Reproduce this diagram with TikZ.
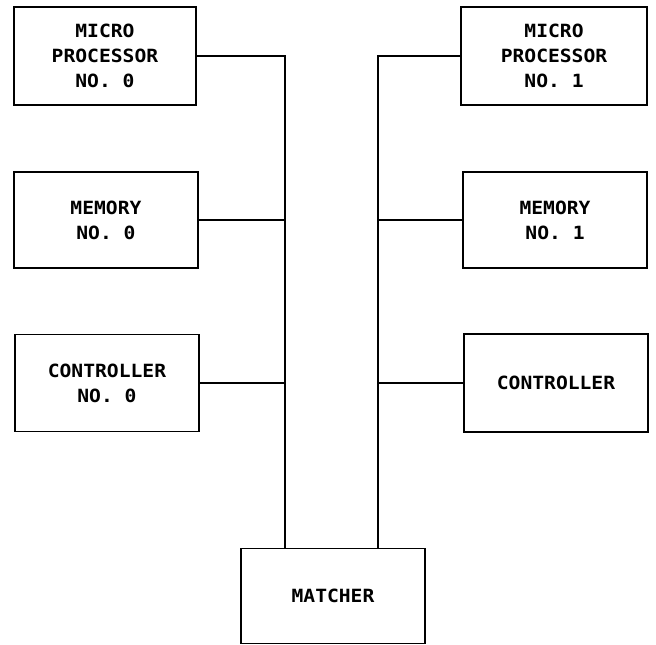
\documentclass[tikz,border=0pt]{standalone}
\usepackage{fontspec}
\newfontfamily\plotfont{DejaVu Sans Mono Bold}[FakeStretch=1.08]
\begin{document}
\begin{tikzpicture}[x=1pt,y=-1pt,
  blk/.style={draw,line width=1.9pt,inner sep=0pt,align=center,
    font=\plotfont\fontsize{18.2}{25}\selectfont},
  wire/.style={line width=1.9pt}]
\useasboundingbox (0,0) rectangle (656,645);
\node[blk,minimum width=182pt,minimum height=98pt] (mp0) at (105,56) {MICRO\\PROCESSOR\\NO. 0};
\node[blk,minimum width=184pt,minimum height=96pt] (mem0) at (106,220) {MEMORY\\NO. 0};
\node[blk,minimum width=184pt,minimum height=97pt] (ct0) at (107,383) {CONTROLLER\\NO. 0};
\node[blk,minimum width=186pt,minimum height=98pt] (mp1) at (554,56) {MICRO\\PROCESSOR\\NO. 1};
\node[blk,minimum width=184pt,minimum height=96pt] (mem1) at (555,220) {MEMORY\\NO. 1};
\node[blk,minimum width=184pt,minimum height=98pt] (ct1) at (556,383) {CONTROLLER};
\node[blk,minimum width=184pt,minimum height=95pt] (mat) at (333,596) {MATCHER};
\coordinate (lbus) at (285,0);
\coordinate (rbus) at (378,0);
\draw[wire] (mp0.east) -| (lbus |- mat.north);
\draw[wire] (mem0.east) -- (mem0.east -| lbus);
\draw[wire] (ct0.east) -- (ct0.east -| lbus);
\draw[wire] (mp1.west) -| (rbus |- mat.north);
\draw[wire] (mem1.west) -- (mem1.west -| rbus);
\draw[wire] (ct1.west) -- (ct1.west -| rbus);
\end{tikzpicture}
\end{document}
